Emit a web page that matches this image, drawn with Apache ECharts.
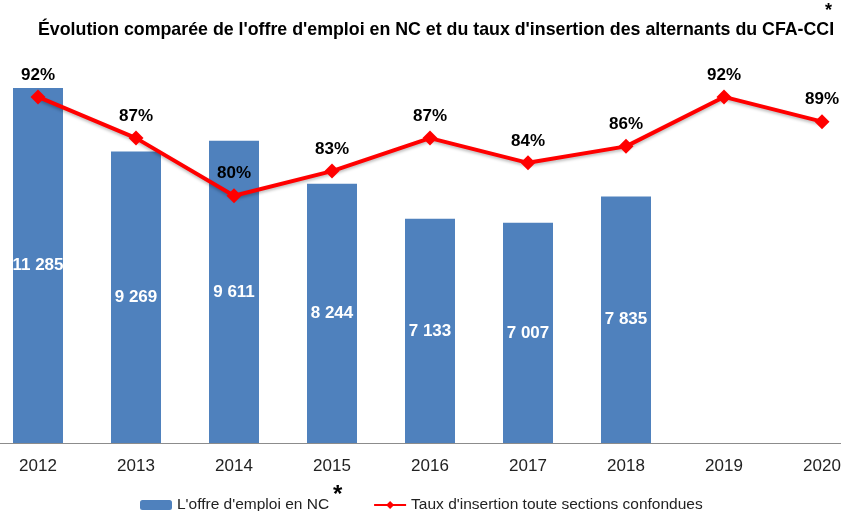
<!DOCTYPE html>
<html>
<head>
<meta charset="utf-8">
<script src="https://cdn.jsdelivr.net/npm/echarts@6/dist/echarts.min.js"></script>
<style>
  html, body { margin: 0; padding: 0; background: #fff; overflow: hidden; width: 841px; height: 511px; }
  /* the original picture is cropped: first and last categories go past the edges */
  #chart { position: absolute; left: -11px; top: 0; width: 882px; height: 511px; }
</style>
</head>
<body>
<div id="chart"></div>
<script>
const years = ['2012', '2013', '2014', '2015', '2016', '2017', '2018', '2019', '2020'];
const offres = [11285, 9269, 9611, 8244, 7133, 7007, 7835, null, null];
const tauxInsertion = [92, 87, 80, 83, 87, 84, 86, 92, 89];

const fontMain = "'Liberation Sans Narrow', 'Liberation Sans', sans-serif";

// 11285 -> "11 285"
function fmtMilliers(v) {
  return String(v).replace(/\B(?=(\d{3})+(?!\d))/g, ' ');
}

const chart = echarts.init(document.getElementById('chart'));

const option = {
  animation: false,
  title: {
    text: "Évolution comparée de l'offre d'emploi en NC et du taux d'insertion des alternants du CFA-CCI",
    left: 44,
    top: 16,
    textStyle: {
      fontFamily: fontMain,
      fontWeight: 'bold',
      fontSize: 17.8,
      color: '#000'
    }
  },
  legend: {
    top: 492,
    left: 146,
    itemGap: 44,
    itemWidth: 32,
    itemHeight: 10,
    textStyle: { fontFamily: fontMain, fontSize: 15.5, color: '#222' },
    data: ["L'offre d'emploi en NC", "Taux d'insertion toute sections confondues"]
  },
  grid: { left: 0, right: 0, top: 31, bottom: 68 },
  xAxis: {
    type: 'category',
    data: years,
    boundaryGap: true,
    axisLine: { lineStyle: { color: '#8c8c8c', width: 1 } },
    axisTick: { length: 5, lineStyle: { color: '#8c8c8c' } },
    axisLabel: { fontFamily: fontMain, fontSize: 17, color: '#222', margin: 15 }
  },
  yAxis: [
    { type: 'value', min: 0, max: 13100, show: false, splitLine: { show: false } },
    { type: 'value', min: 50, max: 100, show: false, splitLine: { show: false } }
  ],
  series: [
    {
      name: "L'offre d'emploi en NC",
      type: 'bar',
      yAxisIndex: 0,
      barWidth: 50,
      data: offres,
      itemStyle: { color: '#4F81BD' },
      label: {
        show: true,
        position: 'inside',
        color: '#fff',
        fontFamily: fontMain,
        fontWeight: 'bold',
        fontSize: 17,
        formatter: p => fmtMilliers(p.value)
      }
    },
    {
      name: "Taux d'insertion toute sections confondues",
      type: 'line',
      yAxisIndex: 1,
      data: tauxInsertion,
      symbol: 'diamond',
      symbolSize: 15,
      lineStyle: { color: '#FF0000', width: 4, shadowColor: 'rgba(0,0,0,0.25)', shadowBlur: 3, shadowOffsetY: 2 },
      itemStyle: { color: '#FF0000' },
      label: {
        show: true,
        position: 'top',
        distance: 6,
        color: '#000',
        fontFamily: fontMain,
        fontWeight: 'bold',
        fontSize: 17,
        formatter: '{c}%'
      }
    }
  ],
  graphic: [
    {
      type: 'text',
      left: 836,
      top: 2,
      style: { text: '*', fontSize: 18, fontWeight: 'bold', fill: '#000', fontFamily: fontMain }
    },
    {
      type: 'text',
      left: 344,
      top: 483,
      style: { text: '*', fontSize: 24, fontWeight: 'bold', fill: '#000', fontFamily: fontMain }
    }
  ]
};

chart.setOption(option);
</script>
</body>
</html>
